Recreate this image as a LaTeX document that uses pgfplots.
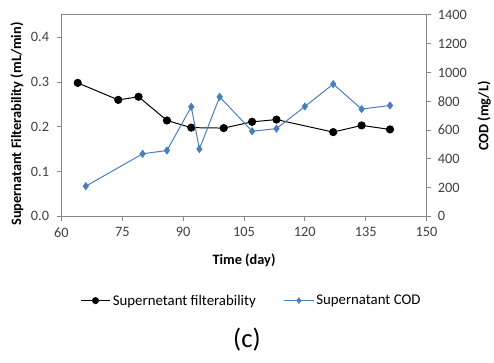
\documentclass[border=0pt]{standalone}
\usepackage{pgfplots}
\usepackage{pgfplotstable}
\pgfplotsset{compat=1.18}
\usepackage{fontspec}
\setmainfont{Carlito}
\definecolor{codblue}{RGB}{74,126,187}
\definecolor{axisgray}{RGB}{134,134,134}
\definecolor{labelgray}{RGB}{64,64,64}

\pgfplotsset{
  common/.style={
    scale only axis, width=368bp, height=203bp,
    at={(62bp,147bp)}, anchor=south west,
    xmin=60, xmax=150, xtick={60,75,...,150},
    axis line style={axisgray, line width=0.8pt},
    tick style={axisgray, line width=0.8pt},
    tick align=outside, major tick length=5bp,
    every tick label/.append style={font=\fontsize{14.5}{14.5}\selectfont, text=labelgray},
    /pgf/number format/assume math mode=true,
    /pgf/number format/1000 sep={},
  },
}
\tikzset{boldlabel/.style={font=\bfseries\fontsize{14.5}{14.5}\selectfont}}

\begin{document}

% supernatant filterability (mL/min) against time (day)
\pgfplotstableread{
day filt
64  0.298
74  0.260
79  0.267
86  0.214
92  0.198
100 0.197
107 0.211
113 0.216
127 0.188
134 0.203
141 0.194
}\filttable

% supernatant COD (mg/L) against time (day)
\pgfplotstableread{
day cod
66  209
80  434
86  457
92  761
94  467
99  830
107 591
113 609
120 763
127 919
134 745
141 770
}\codtable

\begin{tikzpicture}[x=1bp,y=1bp]
\path (0,0) rectangle (494,365);

\begin{axis}[common,
  ymin=0, ymax=0.45, ytick={0,0.1,...,0.4},
  xtick pos=lower, ytick pos=left,
  xticklabel style={yshift=-3bp},
  yticklabel style={xshift=-4bp, /pgf/number format/.cd, fixed, fixed zerofill, precision=1},
  xlabel={Time (day)},
  every axis x label/.style={at={(axis description cs:0.5,-0.217)}, anchor=center, boldlabel},
  ylabel={Supernatant Filterability (mL/min)},
  every axis y label/.style={at={(axis description cs:-0.122,0.458)}, rotate=90, anchor=center, boldlabel},
]
\addplot[black, line width=1pt, mark=*, mark size=3.6bp] table[x=day, y=filt] {\filttable};
\end{axis}

\begin{axis}[common,
  ymin=0, ymax=1400, ytick={0,200,...,1400},
  axis x line=none, axis y line*=right,
  yticklabel style={xshift=3bp},
  ylabel={COD (mg/L)},
  every axis y label/.style={at={(axis description cs:1.158,0.497)}, rotate=90, anchor=center, boldlabel},
  legend style={at={(axis description cs:0.52,-0.419)}, anchor=center, draw=none,
    font=\fontsize{15}{15}\selectfont, legend columns=2,
    /tikz/every even column/.append style={column sep=26bp}},
  legend image code/.code={%
    \draw[mark repeat=2, mark phase=2] plot coordinates {(0bp,0bp) (15bp,0bp) (30bp,0bp)};},
]
\addlegendimage{black, line width=1pt, mark=*, mark size=3bp}
\addlegendentry{Supernetant filterability}
\addlegendimage{codblue, line width=1pt, mark=diamond*, mark size=2.6bp}
\addlegendentry{Supernatant\ COD}
\addplot[codblue, line width=1pt, mark=diamond*, mark size=3.4bp, forget plot] table[x=day, y=cod] {\codtable};
\end{axis}

\node at (249,22.5) {\fontsize{27}{27}\selectfont (c)};
\end{tikzpicture}
\end{document}
